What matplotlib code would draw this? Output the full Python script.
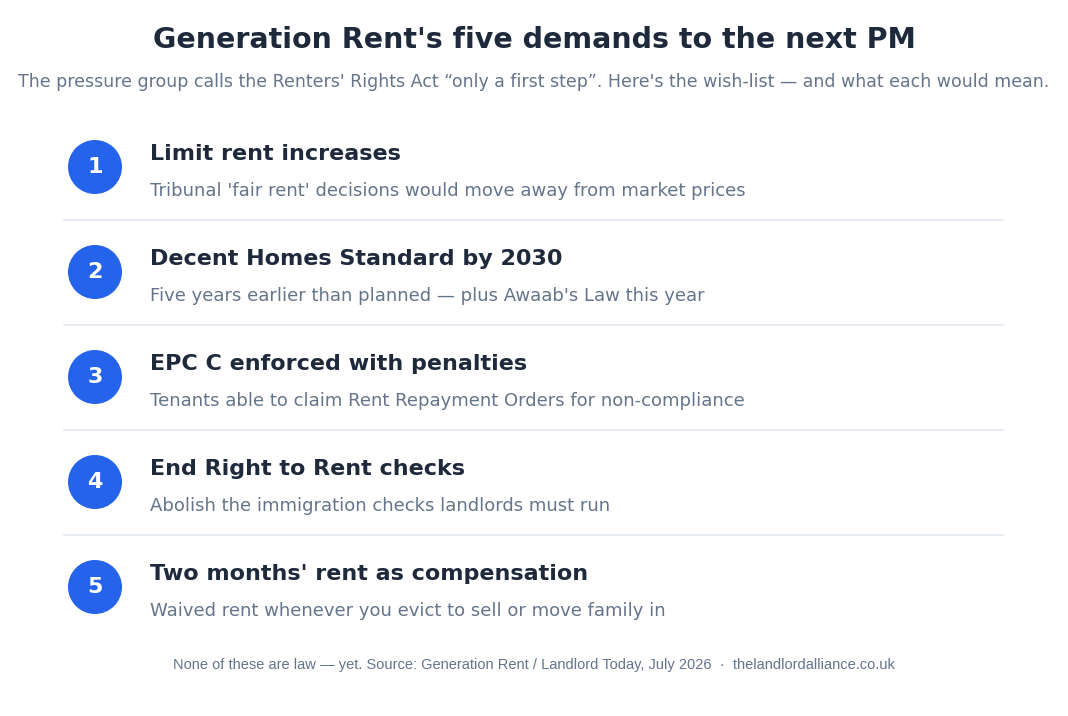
import matplotlib
matplotlib.use("Agg")
import matplotlib.pyplot as plt
from matplotlib.patches import Circle

title = "Generation Rent's five demands to the next PM"
subtitle = "The pressure group calls the Renters' Rights Act \u201conly a first step\u201d. Here's the wish-list \u2014 and what each would mean."
numbers = ["1", "2", "3", "4", "5"]
headings = ["Limit rent increases", "Decent Homes Standard by 2030", "EPC C enforced with penalties",
            "End Right to Rent checks", "Two months' rent as compensation"]
details = ["Tribunal 'fair rent' decisions would move away from market prices",
           "Five years earlier than planned \u2014 plus Awaab's Law this year",
           "Tenants able to claim Rent Repayment Orders for non-compliance",
           "Abolish the immigration checks landlords must run",
           "Waived rent whenever you evict to sell or move family in"]
footer = "None of these are law \u2014 yet. Source: Generation Rent / Landlord Today, July 2026  \u00b7  thelandlordalliance.co.uk"

dark = "#1e293b"; grey = "#64748b"; blue = "#2563eb"; line = "#e2e8f0"
fig = plt.figure(figsize=(10.68, 7.16), dpi=100)
ax = fig.add_axes([0, 0, 1, 1])
ax.set_xlim(0, 1068); ax.set_ylim(716, 0); ax.axis("off")

ax.text(534, 40, title, ha="center", va="center", fontsize=20.5, fontweight="bold", color=dark)
ax.text(534, 82, subtitle, ha="center", va="center", fontsize=12.5, color=grey)
for i, (n, h, d) in enumerate(zip(numbers, headings, details)):
    y = 167 + 105 * i
    ax.add_patch(Circle((95, y), 27, color=blue, lw=0))
    ax.text(95, y, n, ha="center", va="center", fontsize=16, fontweight="bold", color="white")
    ax.text(150, y - 13, h, ha="left", va="center", fontsize=16, fontweight="bold", color=dark)
    ax.text(150, y + 24, d, ha="left", va="center", fontsize=13, color=grey)
    if i < len(numbers) - 1:
        ax.plot([64, 1003], [y + 53, y + 53], color=line, lw=1.2)
ax.text(534, 665, footer, ha="center", va="center", fontsize=10.5, color=grey, family="Liberation Sans")
fig.savefig("out.png", dpi=100)
